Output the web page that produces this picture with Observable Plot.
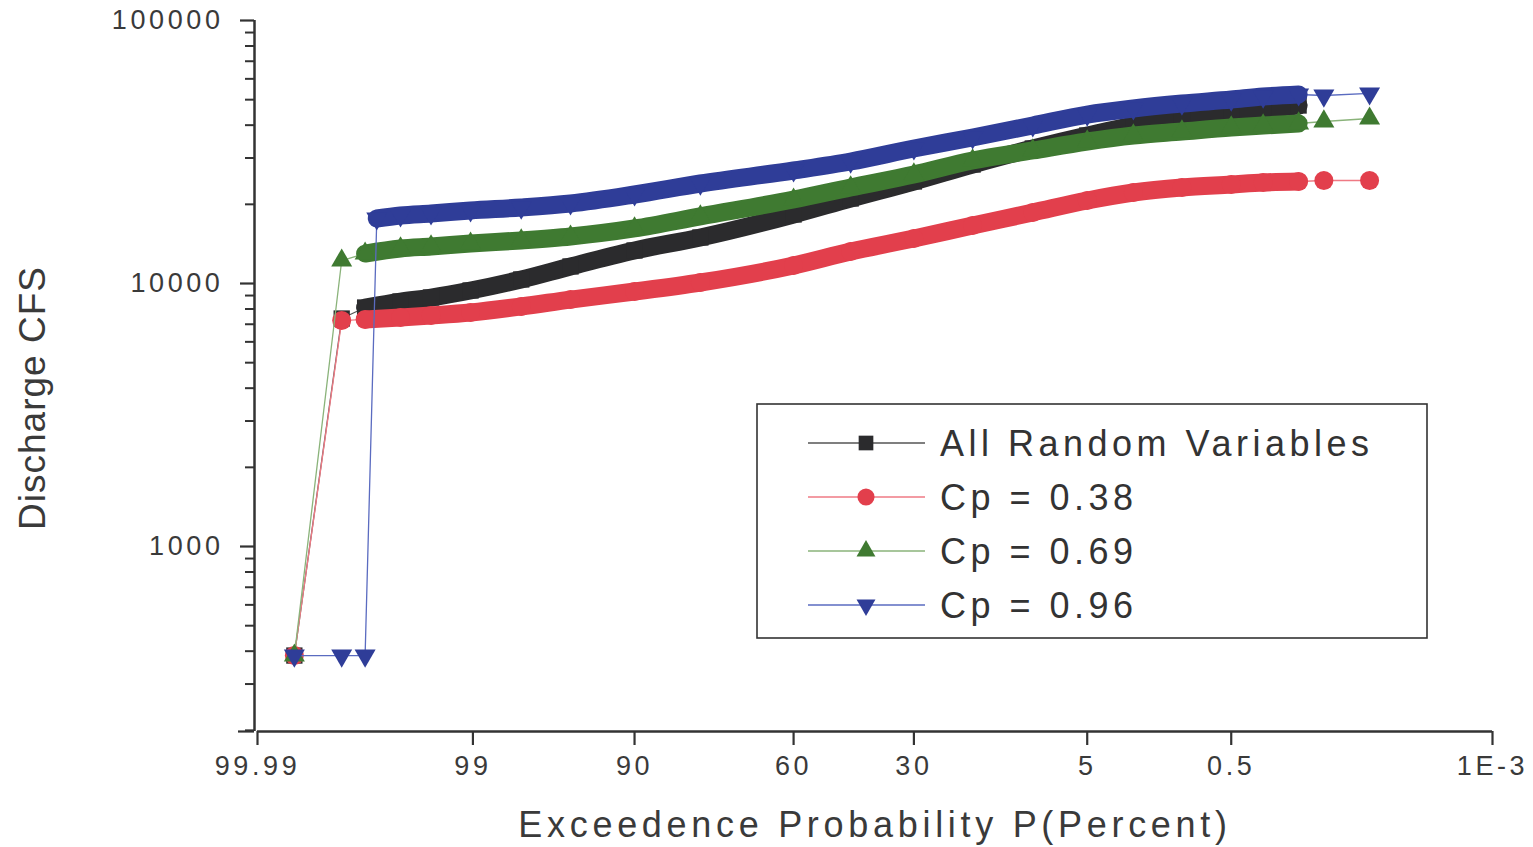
<!DOCTYPE html>
<html>
<head>
<meta charset="utf-8">
<script src="https://cdn.jsdelivr.net/npm/d3@7"></script>
<script src="https://cdn.jsdelivr.net/npm/@observablehq/plot@0.6"></script>
<style>
  html, body { margin: 0; padding: 0; background: #fff; }
  #wrap { position: relative; width: 1533px; height: 847px; font-family: "Liberation Sans", Arial, Helvetica, sans-serif; color: #333; }
  #wrap svg { font-family: "Liberation Sans", Arial, Helvetica, sans-serif; }
  g[aria-label="x-axis tick label"], g[aria-label="y-axis tick label"] { font-size: 27px; letter-spacing: 3.6px; fill: #3a3a3a; }
  g[aria-label="x-axis label"] { font-size: 36px; letter-spacing: 4.7px; fill: #3a3a3a; }
</style>
</head>
<body>
<div id="wrap"></div>
<script>
// ---------- DATA ----------
const seriesNames = ["All Random Variables", "Cp = 0.38", "Cp = 0.69", "Cp = 0.96"];

// x tick labels (exceedance probability, percent)
const xTickValues = [99.99, 99, 90, 60, 30, 5, 0.5, 0.001];
const xTickLabels = ["99.99", "99", "90", "60", "30", "5", "0.5", "1E-3"];
// y tick labels (discharge, cfs)
const yTickValues = [1000, 10000, 100000];
const yTitle = "Discharge CFS";
const xTitle = "Exceedence Probability P(Percent)";

// All Random Variables
const allIsolatedP = [99.975, 99.925];
const allIsolatedQ = [385, 7360];
const allDenseP = [99.875, 99.74, 99.53, 99.04, 97.8, 95.5, 90, 80.4, 60, 45.4, 30, 18.3, 9.8, 5, 2.6, 1.2, 0.5, 0.27, 0.13];
const allDenseQ = [8105, 8540, 8845, 9405, 10360, 11610, 13350, 14960, 18300, 21050, 24430, 28340, 32610, 36540, 39880, 42400, 44300, 45860, 47510];

// Cp = 0.38
const cp38IsolatedP = [99.975, 99.925, 0.075, 0.026];
const cp38IsolatedQ = [385, 7230, 24640, 24640];
const cp38DenseP = [99.875, 99.74, 99.53, 99.04, 97.8, 95.5, 90, 80.4, 60, 45.4, 30, 18.3, 9.8, 5, 2.6, 1.2, 0.5, 0.27, 0.13];
const cp38DenseQ = [7300, 7430, 7560, 7760, 8180, 8690, 9320, 10090, 11710, 13230, 14830, 16620, 18620, 20680, 22180, 23180, 23800, 24220, 24430];

// Cp = 0.69
const cp69IsolatedP = [99.975, 99.925, 0.075, 0.026];
const cp69IsolatedQ = [385, 12230, 41310, 42400];
const cp69DenseP = [99.875, 99.74, 99.53, 99.04, 97.8, 95.5, 90, 80.4, 60, 45.4, 30, 18.3, 9.8, 5, 2.6, 1.2, 0.5, 0.27, 0.13];
const cp69DenseQ = [13000, 13590, 13830, 14190, 14580, 15090, 16190, 18000, 20860, 23180, 25970, 29360, 32050, 34670, 36540, 37840, 39190, 39880, 40590];

// Cp = 0.96
const cp96IsolatedP = [99.975, 99.925, 99.875, 0.075, 0.026];
const cp96IsolatedQ = [385, 385, 385, 51860, 52800];
const cp96DenseP = [99.84, 99.74, 99.53, 99.04, 97.8, 95.5, 90, 80.4, 60, 45.4, 30, 18.3, 9.8, 5, 2.6, 1.2, 0.5, 0.27, 0.13];
const cp96DenseQ = [17670, 18140, 18460, 18950, 19450, 20150, 21800, 24000, 26900, 29100, 32610, 35910, 39900, 43900, 46300, 48350, 50070, 51400, 52320];

// ---------- styling ----------
const seriesColors = ["#2b2b2d", "#e23f4c", "#3f7a31", "#2f3d98"];
const lineColors = ["#555555", "#ef7a84", "#8ab37a", "#5a6bc0"];

// inverse standard normal CDF (Acklam)
function probit(p) {
  const a = [-3.969683028665376e+01, 2.209460984245205e+02, -2.759285104469687e+02, 1.383577518672690e+02, -3.066479806614716e+01, 2.506628277459239e+00];
  const b = [-5.447609879822406e+01, 1.615858368580409e+02, -1.556989798598866e+02, 6.680131188771972e+01, -1.328068155288572e+01];
  const c = [-7.784894002430293e-03, -3.223964580411365e-01, -2.400758277161838e+00, -2.549732539343734e+00, 4.374664141464968e+00, 2.938163982698783e+00];
  const d = [7.784695709041462e-03, 3.224671290700398e-01, 2.445134137142996e+00, 3.754408661907416e+00];
  const pl = 0.02425, ph = 1 - pl;
  let q, r;
  if (p < pl) {
    q = Math.sqrt(-2 * Math.log(p));
    return (((((c[0]*q+c[1])*q+c[2])*q+c[3])*q+c[4])*q+c[5]) / ((((d[0]*q+d[1])*q+d[2])*q+d[3])*q+1);
  }
  if (p <= ph) {
    q = p - 0.5; r = q * q;
    return (((((a[0]*r+a[1])*r+a[2])*r+a[3])*r+a[4])*r+a[5])*q / (((((b[0]*r+b[1])*r+b[2])*r+b[3])*r+b[4])*r+1);
  }
  q = Math.sqrt(-2 * Math.log(1 - p));
  return -(((((c[0]*q+c[1])*q+c[2])*q+c[3])*q+c[4])*q+c[5]) / ((((d[0]*q+d[1])*q+d[2])*q+d[3])*q+1);
}
// exceedance percent -> normal probability position
const zOf = pct => probit(1 - pct / 100);

// downward triangle symbol
const triangleDown = {
  draw(context, size) {
    const y = -Math.sqrt(size / (Math.sqrt(3) * 3));
    context.moveTo(0, -y * 2);
    context.lineTo(-Math.sqrt(3) * y, y);
    context.lineTo(Math.sqrt(3) * y, y);
    context.closePath();
  }
};
const seriesSymbols = ["square", "circle", "triangle", triangleDown];
const d3Symbols = [d3.symbolSquare, d3.symbolCircle, d3.symbolTriangle, triangleDown];
const symbolR = [9.2, 9.5, 7.8, 7.8];

function build(name, isoP, isoQ, denP, denQ) {
  const iso = isoP.map((p, i) => ({series: name, p, q: isoQ[i]}));
  const den = denP.map((p, i) => ({series: name, p, q: denQ[i]}));
  const all = [...iso, ...den].sort((a, b) => zOf(a.p) - zOf(b.p));
  den.sort((a, b) => zOf(a.p) - zOf(b.p));
  return {iso, den, all};
}
const series = [
  build(seriesNames[0], allIsolatedP, allIsolatedQ, allDenseP, allDenseQ),
  build(seriesNames[1], cp38IsolatedP, cp38IsolatedQ, cp38DenseP, cp38DenseQ),
  build(seriesNames[2], cp69IsolatedP, cp69IsolatedQ, cp69DenseP, cp69DenseQ),
  build(seriesNames[3], cp96IsolatedP, cp96IsolatedQ, cp96DenseP, cp96DenseQ)
];

const xTickZ = xTickValues.map(zOf);
const xLabelOf = new Map(xTickZ.map((z, i) => [z, xTickLabels[i]]));
const yMin = 198, yMax = 100000;
const yMinor = d3.scaleLog().domain([yMin, yMax]).ticks().filter(v => !yTickValues.includes(v) && v >= yMin);

const X = d => zOf(d.p);
const Y = d => d.q;

const seriesMarks = series.flatMap((s, i) => [
  Plot.line(s.all, {x: X, y: Y, stroke: lineColors[i], strokeWidth: 1.3}),
  Plot.line(s.den, {x: X, y: Y, stroke: seriesColors[i], strokeWidth: 18, curve: "monotone-x", strokeLinecap: "round", strokeLinejoin: "round"}),
  Plot.dot(s.all, {x: X, y: Y, symbol: seriesSymbols[i], fill: seriesColors[i], stroke: "none", r: symbolR[i]})
]);

const chart = Plot.plot({
  width: 1533,
  height: 847,
  marginLeft: 257,
  marginRight: 41,
  marginTop: 20,
  marginBottom: 116,
  style: {background: "#fff", color: "#333", fontFamily: "Liberation Sans, Arial, sans-serif"},
  x: {type: "linear", domain: [zOf(99.99), zOf(0.001)]},
  y: {type: "log", domain: [yMin, yMax]},
  marks: [
    ...seriesMarks,
    Plot.ruleX([zOf(99.99)], {stroke: "#333", strokeWidth: 2.5, dx: -3, y1: yMin, y2: yMax}),
    Plot.ruleY([yMin], {stroke: "#333", strokeWidth: 2.5}),
    Plot.axisX(xTickZ, {
      tickSize: 14, tickPadding: 10, strokeWidth: 2.2,
      tickFormat: z => xLabelOf.get(z),
      label: xTitle, labelAnchor: "center", labelOffset: 105, labelArrow: "none"
    }),
    Plot.axisY(yTickValues, {
      tickSize: 14, tickPadding: 17, strokeWidth: 2.2, dx: -3,
      tickFormat: d => String(d), label: null
    }),
    Plot.axisY(yMinor, {tickSize: 9, strokeWidth: 2, dx: -3, tickFormat: () => "", label: null}),
    Plot.axisY([yMin], {tickSize: 16, strokeWidth: 2.2, dx: -3, tickFormat: () => "", label: null})
  ]
});
document.getElementById("wrap").appendChild(chart);

// ---------- overlay: y title and legend (inside the plot frame) ----------
const ov = d3.select("#wrap").append("svg")
  .attr("width", 1533).attr("height", 847)
  .style("position", "absolute").style("left", "0px").style("top", "0px")
  .style("pointer-events", "none");
ov.append("text")
  .attr("transform", "translate(45,398) rotate(-90)")
  .attr("text-anchor", "middle")
  .attr("font-family", "Liberation Sans, Arial, sans-serif")
  .attr("font-size", 37).attr("letter-spacing", "1px").attr("fill", "#3a3a3a")
  .text(yTitle);
ov.append("rect")
  .attr("x", 757).attr("y", 404).attr("width", 670).attr("height", 234)
  .attr("fill", "#fff").attr("stroke", "#333").attr("stroke-width", 1.6);
seriesNames.forEach((name, i) => {
  const cy = 443 + i * 54;
  ov.append("line").attr("x1", 808).attr("x2", 925).attr("y1", cy).attr("y2", cy)
    .attr("stroke", lineColors[i]).attr("stroke-width", 1.3);
  const size = Math.PI * Math.pow(symbolR[i] * 0.9, 2);
  ov.append("path").attr("d", d3.symbol(d3Symbols[i], size)())
    .attr("transform", `translate(866,${cy})`).attr("fill", seriesColors[i]);
  ov.append("text").attr("x", 940).attr("y", cy).attr("dy", "0.36em")
    .attr("font-family", "Liberation Sans, Arial, sans-serif")
    .attr("font-size", 36).attr("letter-spacing", "4.5px").attr("fill", "#333")
    .text(name);
});
</script>
</body>
</html>
